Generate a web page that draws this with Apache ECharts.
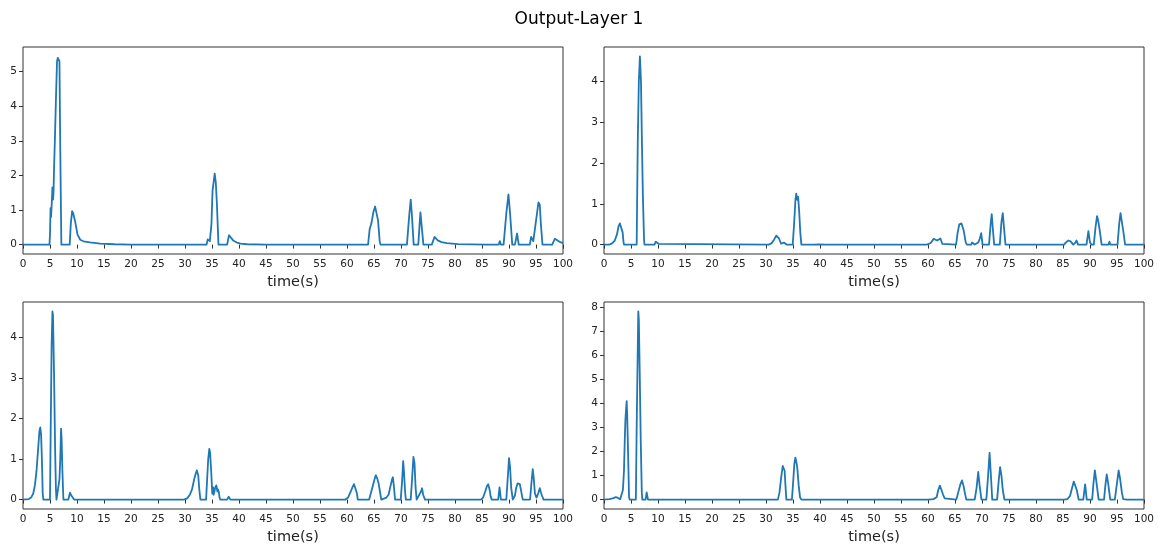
<!DOCTYPE html>
<html>
<head>
<meta charset="utf-8">
<script src="https://cdn.jsdelivr.net/npm/echarts@6/dist/echarts.min.js"></script>
<style>
  html, body { margin: 0; padding: 0; background: #fff; }
  #chart { width: 1158px; height: 546px; }
</style>
</head>
<body>
<div id="chart"></div>
<script>
// Output of layer 1, four channels, sampled as [time (s), activation] pairs.
const channel1 = [[0,0],[4.9,0],[5.0,0.3],[5.1,1.05],[5.2,0.8],[5.3,1.1],[5.45,1.65],[5.55,1.3],[5.65,1.5],[5.75,2.2],[5.9,3.0],[6.1,4.2],[6.3,5.3],[6.45,5.4],[6.6,5.44],[6.75,5.3],[6.9,2.8],[7.1,0],[8.65,0],[8.85,0.6],[9.1,0.97],[9.3,0.9],[9.65,0.67],[10.1,0.29],[10.6,0.14],[11.2,0.096],[12.4,0.067],[14.3,0.03],[17,0.01],[20,0],[34.0,0],[34.2,0.15],[34.4,0.2],[34.6,0.1],[34.9,0.6],[35.1,1.55],[35.25,1.6],[35.5,2.05],[35.7,1.8],[35.9,1.2],[36.2,0],[37.8,0],[38.15,0.27],[38.5,0.2],[39.0,0.11],[39.6,0.06],[40.3,0.03],[41.5,0.01],[45,0],[63.9,0],[64.2,0.45],[64.5,0.6],[64.9,0.95],[65.2,1.1],[65.45,1.1],[65.75,0.7],[66.05,0.1],[66.2,0],[68.3,0],[68.45,0.05],[68.6,0],[69.9,0],[70.0,0.05],[70.1,0],[71.1,0],[71.5,0.8],[71.8,1.3],[72.0,0.9],[72.35,0],[73.2,0],[73.45,0.6],[73.6,0.93],[73.85,0.5],[74.15,0],[75.7,0],[76.2,0.22],[76.8,0.12],[77.5,0.07],[78.5,0.04],[80.5,0.015],[83,0.005],[86,0],[88.1,0],[88.3,0.1],[88.5,0],[89.0,0],[89.5,0.9],[89.9,1.45],[90.2,0.9],[90.6,0],[91.1,0],[91.5,0.32],[91.8,0],[93.85,0],[94.1,0.22],[94.5,0.1],[94.75,0.12],[95.1,0.8],[95.45,1.22],[95.7,1.15],[95.9,0.6],[96.2,0],[98.0,0],[98.5,0.17],[99.0,0.12],[99.5,0.07],[100,0.04]];

const channel2 = [[0,0],[1.0,0],[1.5,0.03],[2.0,0.1],[2.4,0.25],[2.7,0.45],[2.95,0.52],[3.2,0.5],[3.45,0.3],[3.6,0.08],[3.7,0],[6.05,0],[6.25,2.5],[6.45,4.0],[6.65,4.62],[6.75,4.6],[6.85,4.0],[7.0,2.7],[7.2,1.2],[7.42,0.1],[7.5,0],[9.35,0],[9.6,0.07],[9.85,0.05],[10.1,0.02],[10.3,0],[30.5,0],[31.0,0.03],[31.5,0.12],[31.9,0.22],[32.1,0.2],[32.4,0.15],[32.8,0.02],[33.0,0],[33.3,0.05],[33.6,0.06],[33.8,0],[34.95,0],[35.2,0.5],[35.45,1.1],[35.6,1.25],[35.8,1.1],[35.95,1.17],[36.15,0.8],[36.35,0.3],[36.55,0],[38.8,0],[39.0,0.01],[40.0,0.005],[41,0],[59.8,0],[60.5,0.04],[61.05,0.14],[61.3,0.12],[61.7,0.1],[62.0,0.12],[62.3,0.15],[62.65,0.02],[62.8,0],[65.2,0],[65.5,0.3],[65.8,0.5],[66.2,0.52],[66.6,0.35],[67.0,0.05],[67.2,0],[68.0,0],[68.15,0.05],[68.3,0.03],[68.65,0],[69.3,0.05],[69.6,0.15],[69.85,0.28],[70.1,0],[71.3,0],[71.6,0.5],[71.8,0.75],[72.0,0.4],[72.25,0],[73.3,0],[73.6,0.55],[73.85,0.77],[74.05,0.45],[74.35,0],[85.2,0],[85.6,0.06],[86.0,0.1],[86.4,0.08],[86.9,0],[87.3,0.05],[87.5,0.1],[87.8,0],[89.35,0],[89.7,0.33],[90.0,0.05],[90.3,0],[90.7,0],[91.0,0.4],[91.3,0.7],[91.5,0.6],[91.8,0.35],[92.15,0],[93.45,0],[93.6,0.07],[93.75,0],[95.1,0],[95.4,0.5],[95.65,0.77],[95.9,0.73],[96.2,0.3],[96.5,0],[100,0]];

const channel3 = [[0,0],[1.0,0.01],[1.5,0.05],[1.9,0.15],[2.2,0.35],[2.5,0.7],[2.8,1.25],[3.05,1.7],[3.2,1.78],[3.35,1.6],[3.5,1.0],[3.65,0.15],[3.77,0],[5.0,0],[5.15,2.0],[5.3,3.8],[5.45,4.64],[5.55,4.55],[5.75,3.1],[5.95,1.2],[6.1,0.25],[6.2,0],[6.55,0],[6.75,0.5],[6.9,1.0],[7.05,1.75],[7.15,1.5],[7.3,0.7],[7.48,0],[8.4,0],[8.7,0.17],[8.95,0.1],[9.1,0.13],[9.46,0],[29.8,0],[30.4,0.03],[30.9,0.12],[31.3,0.25],[31.7,0.5],[32.0,0.65],[32.2,0.72],[32.45,0.6],[32.65,0.25],[32.85,0],[33.9,0],[34.1,0.5],[34.3,1.0],[34.5,1.25],[34.65,1.15],[34.85,0.7],[35.05,0.15],[35.2,0.3],[35.3,0.12],[35.45,0.2],[35.6,0.3],[35.8,0.35],[36.0,0.2],[36.1,0.25],[36.25,0.2],[36.4,0.05],[36.55,0],[37.8,0],[38.1,0.07],[38.4,0],[59.7,0],[60.2,0.05],[60.7,0.2],[61.0,0.3],[61.3,0.38],[61.6,0.35],[61.85,0.15],[62.0,0],[64.1,0],[64.4,0.15],[64.8,0.35],[65.2,0.55],[65.35,0.6],[65.6,0.52],[65.85,0.4],[66.1,0.2],[66.35,0],[66.7,0.03],[67.3,0.05],[67.7,0.12],[68.0,0.3],[68.35,0.5],[68.5,0.55],[68.7,0.3],[68.9,0],[69.95,0],[70.2,0.45],[70.4,0.95],[70.55,0.7],[70.75,0.2],[70.9,0],[71.8,0],[72.05,0.5],[72.3,1.05],[72.5,0.9],[72.7,0.3],[72.9,0],[73.2,0],[73.5,0.15],[73.7,0.2],[73.9,0.28],[74.1,0.12],[74.3,0.1],[74.45,0],[75.8,0],[76.1,0.02],[76.5,0],[84.8,0],[85.2,0.05],[85.6,0.2],[85.9,0.33],[86.15,0.38],[86.4,0.25],[86.6,0.08],[86.8,0],[88.0,0],[88.25,0.3],[88.5,0],[89.5,0],[89.8,0.6],[90.0,1.02],[90.2,0.8],[90.4,0.3],[90.7,0],[91.1,0.1],[91.35,0.3],[91.6,0.4],[91.8,0.42],[92.0,0.38],[92.2,0.25],[92.4,0.1],[92.55,0],[93.9,0],[94.15,0.4],[94.4,0.75],[94.6,0.5],[94.8,0.15],[95.1,0.05],[95.4,0.15],[95.7,0.28],[95.9,0.18],[96.1,0.1],[96.4,0],[97.7,0],[98.0,0.02],[98.6,0],[100,0]];

const channel4 = [[0,0],[1.0,0.02],[1.6,0.05],[2.2,0.1],[2.6,0.07],[3.0,0.01],[3.3,0],[3.5,0.4],[3.7,1.2],[3.85,2.5],[3.96,3.3],[4.1,3.8],[4.2,4.1],[4.3,3.5],[4.45,2.0],[4.64,0.1],[4.76,0],[5.9,0],[6.05,3.0],[6.2,5.5],[6.35,7.84],[6.45,7.5],[6.6,5.5],[6.8,2.5],[7.0,0.3],[7.1,0],[7.7,0],[7.9,0.3],[8.15,0],[30.8,0],[31.0,0.06],[31.4,0],[32.2,0],[32.5,0.3],[32.8,0.9],[33.1,1.4],[33.25,1.45],[33.45,1.2],[33.6,0.6],[33.77,0],[34.8,0],[35.05,0.8],[35.25,1.5],[35.43,1.75],[35.6,1.6],[35.8,1.3],[36.05,0.6],[36.3,0.1],[36.55,0],[37.1,0],[37.35,0.07],[37.8,0],[60.0,0],[61.0,0.02],[61.6,0.1],[61.9,0.4],[62.2,0.58],[62.5,0.4],[62.8,0.2],[63.1,0.05],[63.4,0],[65.25,0],[65.6,0.3],[65.95,0.6],[66.3,0.8],[66.6,0.55],[66.85,0.25],[67.1,0],[68.65,0],[69.0,0.5],[69.3,1.15],[69.55,0.6],[69.9,0],[70.8,0],[71.1,0.9],[71.4,1.95],[71.6,1.2],[71.9,0],[72.8,0],[73.1,0.8],[73.35,1.35],[73.6,1.0],[73.85,0.4],[74.15,0],[85.2,0],[85.8,0.02],[86.3,0.15],[86.7,0.5],[87.0,0.75],[87.3,0.82],[87.55,0.4],[87.9,0],[88.75,0],[89.1,0.63],[89.4,0],[90.4,0],[90.65,0.7],[90.9,1.22],[91.15,0.8],[91.6,0],[92.6,0],[92.85,0.6],[93.1,1.05],[93.35,0.7],[93.75,0],[94.6,0],[95.0,0.7],[95.3,1.22],[95.55,0.9],[95.9,0.3],[96.15,0.02],[96.8,0],[100,0]];

// Tick labels for each panel's value axis
const yTicks1 = [0, 1, 2, 3, 4, 5];
const yTicks2 = [0, 1, 2, 3, 4];
const yTicks3 = [0, 1, 2, 3, 4];
const yTicks4 = [0, 1, 2, 3, 4, 5, 6, 7, 8];

const titleText = 'Output-Layer 1';
const xName = 'time(s)';

const panels = [
  { data: channel1, ticks: yTicks1, left: 23,  top: 47 },
  { data: channel2, ticks: yTicks2, left: 604, top: 47 },
  { data: channel3, ticks: yTicks3, left: 23,  top: 302 },
  { data: channel4, ticks: yTicks4, left: 604, top: 302 }
];

const FONT = 'DejaVu Sans';
const INK = '#222';
const FRAME = '#333';

const grid = [], xAxis = [], yAxis = [], series = [];
panels.forEach((p, i) => {
  // autoscale with a 5% margin on both ends of the data range
  const ys = p.data.map(d => d[1]);
  const lo = Math.min.apply(null, ys), hi = Math.max.apply(null, ys);
  const pad = (hi - lo) * 0.05;

  grid.push({
    left: p.left, top: p.top, width: 540, height: 207,
    show: true, borderColor: FRAME, borderWidth: 1, backgroundColor: 'transparent'
  });
  xAxis.push({
    gridIndex: i, type: 'value', min: 0, max: 100, interval: 5,
    name: xName, nameLocation: 'middle', nameGap: 21,
    nameTextStyle: { fontFamily: FONT, fontSize: 14.5, color: INK },
    axisLine: { show: false },
    axisTick: { show: true, inside: false, length: 4, lineStyle: { color: FRAME, width: 1 } },
    axisLabel: { margin: 5, fontFamily: FONT, fontSize: 10.5, color: INK },
    splitLine: { show: false }
  });
  yAxis.push({
    gridIndex: i, type: 'value', min: lo - pad, max: hi + pad,
    axisLine: { show: false },
    axisTick: { show: true, inside: false, length: 4, customValues: p.ticks, lineStyle: { color: FRAME, width: 1 } },
    axisLabel: { margin: 6, fontFamily: FONT, fontSize: 10.5, color: INK, customValues: p.ticks },
    splitLine: { show: false }
  });
  series.push({
    type: 'line', xAxisIndex: i, yAxisIndex: i, data: p.data,
    showSymbol: false, symbol: 'none', smooth: false,
    lineStyle: { color: '#1f77b4', width: 1.8, join: 'round' },
    emphasis: { disabled: true }
  });
});

const chart = echarts.init(document.getElementById('chart'));
chart.setOption({
  animation: false,
  backgroundColor: '#fff',
  title: {
    text: titleText, left: 'center', top: 6,
    textStyle: { fontFamily: FONT, fontSize: 17, fontWeight: 'normal', color: '#000' }
  },
  grid, xAxis, yAxis, series
});
</script>
</body>
</html>
